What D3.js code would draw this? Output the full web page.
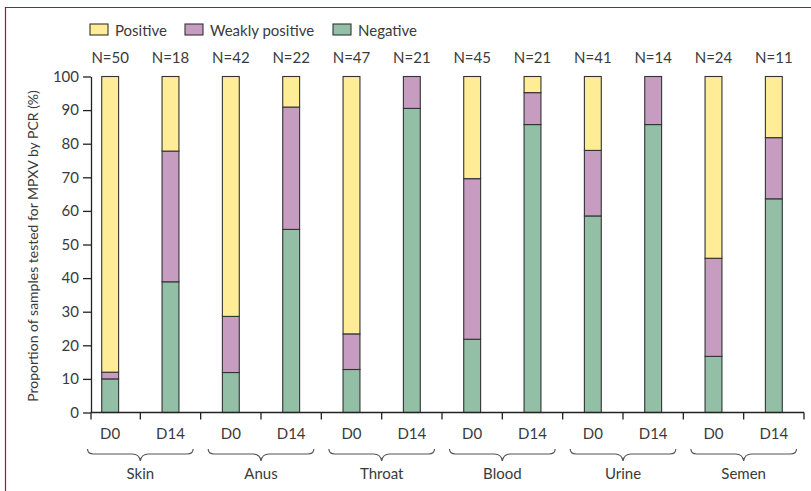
<!DOCTYPE html>
<html>
<head>
<meta charset="utf-8">
<script src="https://cdn.jsdelivr.net/npm/d3@7/dist/d3.min.js"></script>
<style>
  html, body { margin: 0; padding: 0; background: #fff; }
  svg { display: block; }
  text { font-family: Lato, "Noto Sans", sans-serif; fill: #3a3a3a; }
</style>
</head>
<body>
<svg id="chart" width="811" height="491"></svg>
<script>
// ---- data ----
const groups = ["Skin", "Anus", "Throat", "Blood", "Urine", "Semen"];
const timepoints = ["D0", "D14"];
const sampleSizes = [50, 18, 42, 22, 47, 21, 45, 21, 41, 14, 24, 11];
const negative       = [10.0, 38.9, 11.9, 54.5, 12.8, 90.5, 21.8, 85.7, 58.5, 85.7, 16.7, 63.6];
const weaklyPositive = [ 2.0, 38.9, 16.7, 36.4, 10.6,  9.5, 47.8,  9.5, 19.5, 14.3, 29.2, 18.2];
const positive       = [88.0, 22.2, 71.4,  9.1, 76.6,  0.0, 30.4,  4.8, 22.0,  0.0, 54.1, 18.2];
const seriesNames = ["Positive", "Weakly positive", "Negative"];
const yTicks = [0, 10, 20, 30, 40, 50, 60, 70, 80, 90, 100];
const yTitle = "Proportion of samples tested for MPXV by PCR (%)";

// ---- build table ----
const rows = [];
groups.forEach((g, gi) => {
  timepoints.forEach((t, ti) => {
    const i = gi * 2 + ti;
    rows.push({ id: g + "-" + t, group: g, tp: t, n: sampleSizes[i],
      "Negative": negative[i], "Weakly positive": weaklyPositive[i], "Positive": positive[i] });
  });
});

const colors = { "Positive": "#ffec96", "Weakly positive": "#c69dc1", "Negative": "#92bfa6" };
const svg = d3.select("#chart");

// frame
svg.append("path").attr("d", "M5.5,491 L5.5,7.5 L811,7.5")
  .attr("fill", "none").attr("stroke", "#a8123f").attr("stroke-width", 1.2);

const axisX0 = 91, baseY = 412.5, topY = 76.5;
const x = d3.scaleBand().domain(rows.map(d => d.id)).range([80, 804])
  .paddingInner(0.72).paddingOuter(0.36);
const y = d3.scaleLinear().domain([0, 100]).range([baseY, topY]);
const step = x.step(), bw = x.bandwidth();
const cx = id => x(id) + bw / 2;
const boundary = id => cx(id) + step / 2;

// stacked bars
const stack = d3.stack().keys(["Negative", "Weakly positive", "Positive"]);
const series = stack(rows);
svg.append("g").selectAll("g").data(series).join("g")
  .attr("fill", s => colors[s.key])
  .selectAll("rect").data(s => s).join("rect")
  .attr("x", d => x(d.data.id))
  .attr("width", bw)
  .attr("y", d => y(d[1]))
  .attr("height", d => y(d[0]) - y(d[1]))
  .attr("stroke", "#333").attr("stroke-width", 1.1);

// y axis
const yAxis = d3.axisLeft(y).tickValues(yTicks).tickSize(8).tickPadding(4).tickSizeOuter(0);
const gy = svg.append("g").attr("transform", `translate(${axisX0},0)`).call(yAxis);
gy.selectAll("path, line").attr("stroke", "#222").attr("stroke-width", 1.3);
gy.selectAll("text").style("font-size", "15px").style("font-family", "Lato, sans-serif").attr("fill", "#3a3a3a");

// x axis line + ticks
const xEnd = boundary(rows[rows.length - 1].id);
svg.append("line").attr("x1", axisX0).attr("x2", xEnd).attr("y1", baseY).attr("y2", baseY)
  .attr("stroke", "#222").attr("stroke-width", 1.3);
const tickXs = [axisX0].concat(rows.map(d => boundary(d.id)));
svg.append("g").selectAll("line").data(tickXs).join("line")
  .attr("x1", d => d).attr("x2", d => d).attr("y1", baseY).attr("y2", baseY + 7)
  .attr("stroke", "#222").attr("stroke-width", 1.3);

// x tick labels
svg.append("g").selectAll("text").data(rows).join("text")
  .attr("x", d => cx(d.id)).attr("y", 438.5).attr("text-anchor", "middle")
  .style("font-size", "15px").text(d => d.tp);

// N labels
svg.append("g").selectAll("text").data(rows).join("text")
  .attr("x", d => cx(d.id)).attr("y", 63).attr("text-anchor", "middle")
  .style("font-size", "15px").text(d => "N=" + d.n);

// braces
const half = step * 0.875;
svg.append("g").selectAll("path").data(groups).join("path")
  .attr("d", g => {
    const m = boundary(g + "-D0"), l = m - half, r = m + half, t = 449, h = 454, b = 461;
    return `M${l},${t} Q${l},${h} ${l + 6},${h} L${m - 8},${h} Q${m - 1},${h} ${m},${b} ` +
           `Q${m + 1},${h} ${m + 8},${h} L${r - 6},${h} Q${r},${h} ${r},${t}`;
  })
  .attr("fill", "none").attr("stroke", "#555").attr("stroke-width", 1.2);
svg.append("g").selectAll("text").data(groups).join("text")
  .attr("x", g => boundary(g + "-D0")).attr("y", 478.5).attr("text-anchor", "middle")
  .style("font-size", "15px").text(g => g);

// y title
svg.append("text").attr("transform", `translate(38,246) rotate(-90)`)
  .attr("text-anchor", "middle").style("font-size", "14px").text(yTitle);

// legend
const legendX = [90, 185, 333];
const lg = svg.append("g").selectAll("g").data(seriesNames).join("g")
  .attr("transform", (d, i) => `translate(${legendX[i]},24)`);
lg.append("rect").attr("width", 18).attr("height", 11).attr("fill", d => colors[d])
  .attr("stroke", "#333").attr("stroke-width", 1.1);
lg.append("text").attr("x", 25).attr("y", 11.5).style("font-size", "15px").text(d => d);
</script>
</body>
</html>
